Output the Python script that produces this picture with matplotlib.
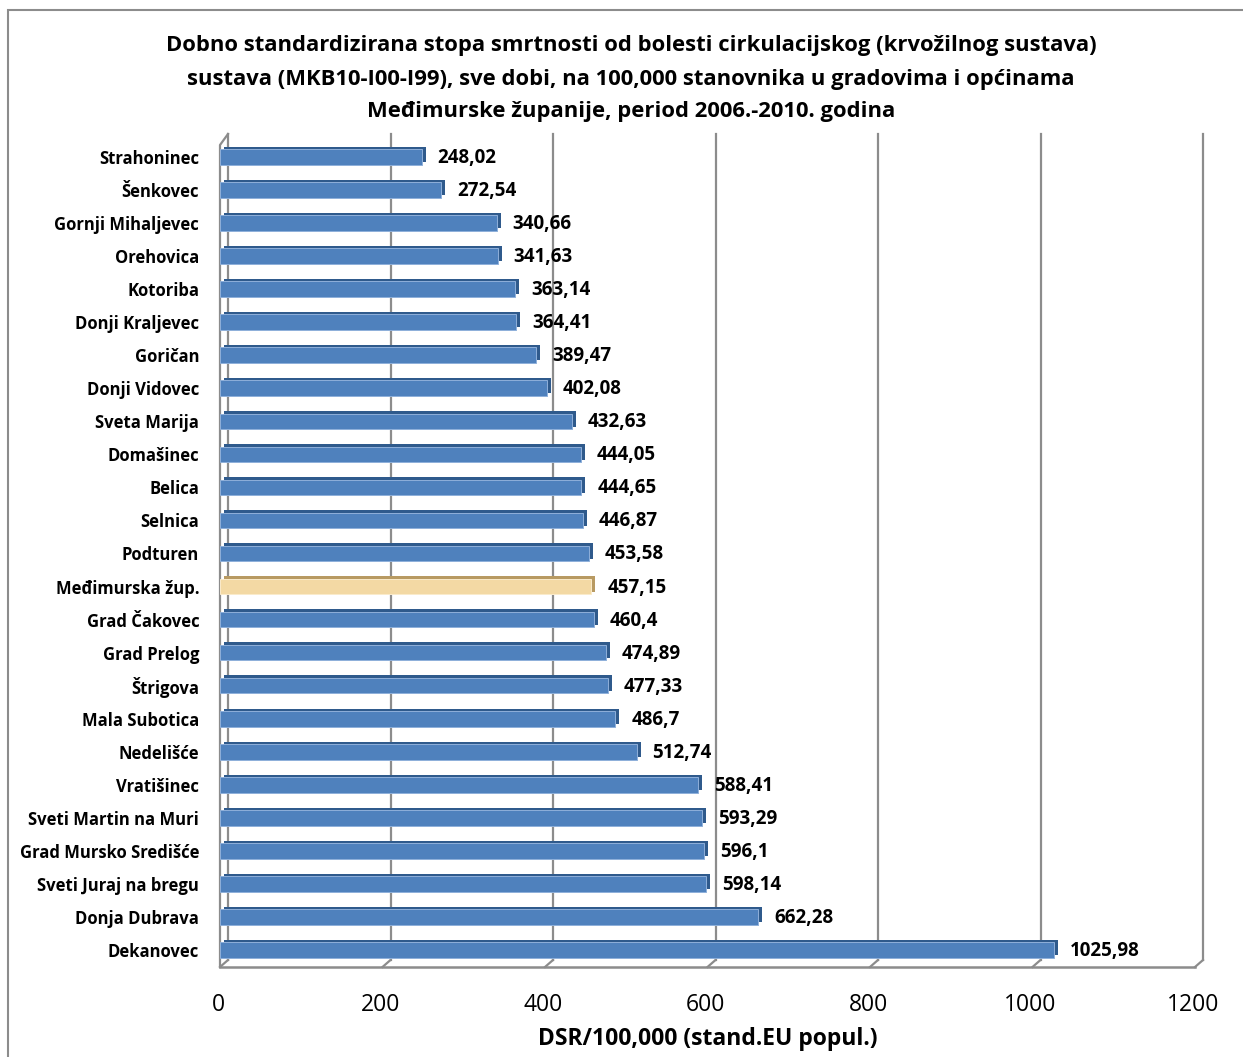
import matplotlib
matplotlib.use("Agg")
import matplotlib.pyplot as plt
import matplotlib.transforms as mtransforms
from matplotlib.patches import Rectangle

plt.rcParams['font.family'] = ['Open Sans', 'DejaVu Sans']

categories = ["Strahoninec", "Šenkovec", "Gornji Mihaljevec", "Orehovica", "Kotoriba",
              "Donji Kraljevec", "Goričan", "Donji Vidovec", "Sveta Marija", "Domašinec",
              "Belica", "Selnica", "Podturen", "Međimurska žup.", "Grad Čakovec",
              "Grad Prelog", "Štrigova", "Mala Subotica", "Nedelišće", "Vratišinec",
              "Sveti Martin na Muri", "Grad Mursko Središće", "Sveti Juraj na bregu",
              "Donja Dubrava", "Dekanovec"]
values = [248.02, 272.54, 340.66, 341.63, 363.14, 364.41, 389.47, 402.08, 432.63, 444.05,
          444.65, 446.87, 453.58, 457.15, 460.4, 474.89, 477.33, 486.7, 512.74, 588.41,
          593.29, 596.1, 598.14, 662.28, 1025.98]
highlight = "Međimurska žup."
xticks = [0, 200, 400, 600, 800, 1000, 1200]

title = ("Dobno standardizirana stopa smrtnosti od bolesti cirkulacijskog (krvožilnog sustava)\n"
         "sustava (MKB10-I00-I99), sve dobi, na 100,000 stanovnika u gradovima i općinama\n"
         "Međimurske županije, period 2006.-2010. godina")
xlabel = "DSR/100,000 (stand.EU popul.)"

W, H = 1243, 1057
fig = plt.figure(figsize=(W / 100, H / 100), dpi=100)

# outer chart frame (only left and top visible)
fig.patches.append(Rectangle((8 / W, -0.05), 1.2, 1 - 10 / H + 0.05, transform=fig.transFigure,
                             fill=False, edgecolor='#8c8c8c', linewidth=1.5))

ax_l, ax_r, ax_b, ax_t = 220, 1195, 967, 140
ax = fig.add_axes([ax_l / W, 1 - ax_b / H, (ax_r - ax_l) / W, (ax_b - ax_t) / H])
ax.set_xlim(0, 1200)
n = len(categories)
ax.set_ylim(n - 0.49, -0.51)
for s in ax.spines.values():
    s.set_visible(False)

px_unit = (ax_r - ax_l) / 1200.0
ah = ax_b - ax_t
depth_x = 8 / px_unit
depth_y = 7 / ah
trans = mtransforms.blended_transform_factory(ax.transData, ax.transAxes)
grid_c = '#8c8c8c'

# back wall gridlines + floor diagonals
for v in xticks:
    ax.plot([v + depth_x, v + depth_x], [depth_y, 1 + 6 / ah], transform=trans,
            color=grid_c, lw=1.6, zorder=0, clip_on=False)
    ax.plot([v, v + depth_x], [0, depth_y], transform=trans,
            color=grid_c, lw=1.6, zorder=0, clip_on=False)
# left wall and floor front edge
ax.plot([0, 0, depth_x], [0, 1 - 5 / ah, 1 + 6 / ah], transform=trans,
        color=grid_c, lw=1.6, zorder=0, clip_on=False)
ax.plot([0, 1200], [0, 0], transform=trans, color=grid_c, lw=1.8, zorder=0, clip_on=False)

# bars with a simple depth face
ypos = list(range(n))
front = ['#F3D9A4' if c == highlight else '#4F81BD' for c in categories]
side = ['#B89A62' if c == highlight else '#2F5A8C' for c in categories]
edge = ['#FBEBCB' if c == highlight else '#8FB0DA' for c in categories]
shift = mtransforms.ScaledTranslation(4 / 100, 2.5 / 100, fig.dpi_scale_trans)
ax.barh(ypos, values, height=0.47, color=side, transform=ax.transData + shift, zorder=2)
ax.barh(ypos, values, height=0.47, color=front, edgecolor=edge, linewidth=0.7, zorder=3)

for y, v in zip(ypos, values):
    ax.annotate(f"{v:g}".replace('.', ','), (v, y), xytext=(16, -1), textcoords='offset pixels',
                ha='left', va='center', fontsize=13.5, fontweight='bold', zorder=4)

ax.set_yticks(ypos)
ax.set_yticklabels(categories, fontsize=12, fontweight='bold')
ax.tick_params(axis='y', length=0, pad=15)
ax.set_xticks(xticks)
ax.set_xticklabels([str(t) for t in xticks], fontsize=16.5)
ax.tick_params(axis='x', length=0, pad=19)
for lbl in ax.get_xticklabels():
    lbl.set_transform(lbl.get_transform() + mtransforms.ScaledTranslation(-2 / 100, 0, fig.dpi_scale_trans))
ax.set_xlabel(xlabel, fontsize=16.5, fontweight='bold', labelpad=7)

fig.text(631 / W, 1 - 79 / H, title, ha='center', va='center', fontsize=15.8,
         fontweight='bold', linespacing=1.75)

fig.savefig("out.png", dpi=100)
